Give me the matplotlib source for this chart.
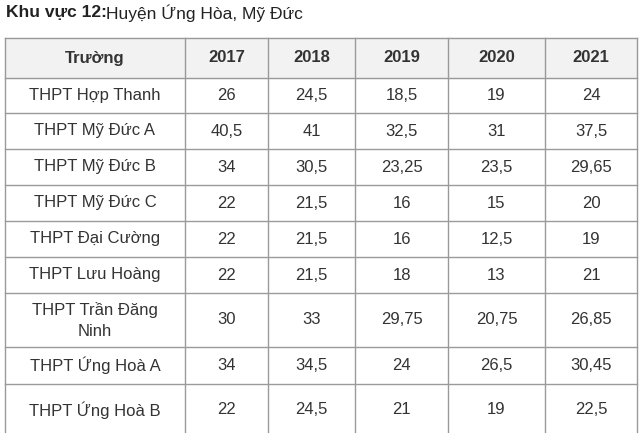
import matplotlib.pyplot as plt

title_bold = "Khu vực 12:"
title_rest = "Huyện Ứng Hòa, Mỹ Đức"
header = ["Trường", "2017", "2018", "2019", "2020", "2021"]
schools = ["THPT Hợp Thanh", "THPT Mỹ Đức A", "THPT Mỹ Đức B", "THPT Mỹ Đức C",
           "THPT Đại Cường", "THPT Lưu Hoàng", "THPT Trần Đăng\nNinh",
           "THPT Ứng Hoà A", "THPT Ứng Hoà B"]
scores = [
    ["26", "24,5", "18,5", "19", "24"],
    ["40,5", "41", "32,5", "31", "37,5"],
    ["34", "30,5", "23,25", "23,5", "29,65"],
    ["22", "21,5", "16", "15", "20"],
    ["22", "21,5", "16", "12,5", "19"],
    ["22", "21,5", "18", "13", "21"],
    ["30", "33", "29,75", "20,75", "26,85"],
    ["34", "34,5", "24", "26,5", "30,45"],
    ["22", "24,5", "21", "19", "22,5"],
]

col_edges = [5, 185, 268, 355, 448, 545, 637]
row_edges = [38, 78, 113, 149, 185, 221, 257, 293, 347, 384, 433]

fig = plt.figure(figsize=(6.4, 4.33), dpi=100)
ax = fig.add_axes([0, 0, 1, 1])
ax.set_xlim(0, 640)
ax.set_ylim(433, 0)
ax.axis("off")

font = "Liberation Sans"
ax.text(6, 13, title_bold, fontsize=12.5, fontweight="bold", family=font, va="center", color="#222222")
ax.text(106, 13, title_rest, fontsize=12.5, family=font, va="center", color="#222222")

line_c = "#9a9a9a"
ax.fill_between([col_edges[0], col_edges[-1]], row_edges[0], row_edges[1], color="#f2f2f2", zorder=0)
for y in row_edges[:-1]:
    ax.plot([col_edges[0], col_edges[-1]], [y, y], color=line_c, lw=1)
for x in col_edges:
    ax.plot([x, x], [row_edges[0], row_edges[-1]], color=line_c, lw=1)

def centers(edges):
    return [(a + b) / 2 for a, b in zip(edges[:-1], edges[1:])]

cx = centers(col_edges)
cy = centers(row_edges)
cy[-1] = 410

fs = 12
for x, h in zip(cx, header):
    ax.text(x, cy[0], h, ha="center", va="center", fontsize=fs, fontweight="bold",
            family=font, color="#333333")
for i, (name, vals) in enumerate(zip(schools, scores)):
    y = cy[i + 1]
    ax.text(cx[0], y, name, ha="center", va="center", fontsize=fs, family=font,
            color="#333333", linespacing=1.5)
    for x, v in zip(cx[1:], vals):
        ax.text(x, y, v, ha="center", va="center", fontsize=fs, family=font, color="#333333")

fig.savefig("out.png", dpi=100)
